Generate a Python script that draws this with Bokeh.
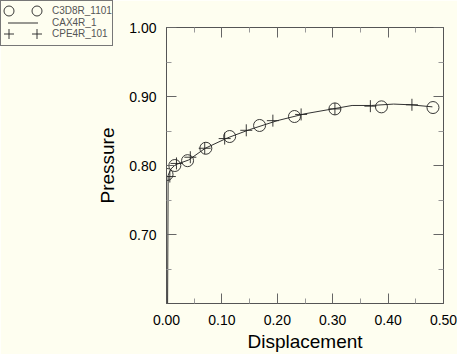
from bokeh.plotting import figure
from bokeh.models import Range1d, LinearAxis, FixedTicker, PrintfTickFormatter, GridBox, Div
from bokeh.embed import file_html
from bokeh.resources import INLINE

# ---- data ----
c3d8r_x = [0.001, 0.015, 0.038, 0.071, 0.114, 0.168, 0.231, 0.304, 0.388, 0.481]
c3d8r_y = [0.787, 0.800, 0.807, 0.825, 0.842, 0.858, 0.871, 0.882, 0.885, 0.884]

cax4r_x = [0.002, 0.003, 0.008, 0.016, 0.040, 0.070, 0.110, 0.150, 0.200, 0.250, 0.300, 0.335, 0.370, 0.410, 0.440, 0.480]
cax4r_y = [0.600, 0.786, 0.795, 0.801, 0.808, 0.825, 0.840, 0.852, 0.865, 0.875, 0.882, 0.887, 0.887, 0.889, 0.888, 0.885]

cpe4r_x = [0.006, 0.018, 0.043, 0.069, 0.105, 0.144, 0.192, 0.243, 0.304, 0.368, 0.443]
cpe4r_y = [0.784, 0.803, 0.812, 0.825, 0.839, 0.851, 0.865, 0.874, 0.882, 0.886, 0.888]

series_names = ["C3D8R_1101", "CAX4R_1", "CPE4R_101"]

x_ticks = [0.0, 0.1, 0.2, 0.3, 0.4, 0.5]
x_minor = [0.05, 0.15, 0.25, 0.35, 0.45]
y_ticks = [0.7, 0.8, 0.9, 1.0]
y_minor = [0.65, 0.75, 0.85, 0.95]

BG = "#FEFEF0"
INK = "#222222"
FONT = "Liberation Sans"
W, H = 457, 354

# ---------------- main plot ----------------
p = figure(width=W, height=H, output_backend="svg", toolbar_location=None,
           x_range=Range1d(0, 0.5), y_range=Range1d(0.6, 1.0),
           min_border_left=166, min_border_right=14,
           min_border_top=27, min_border_bottom=50,
           background_fill_color=BG, border_fill_color=BG)
p.grid.visible = False
p.outline_line_color = "#555555"

p.line(cax4r_x, cax4r_y, line_color="#333333", line_width=1)
p.scatter(c3d8r_x, c3d8r_y, marker="circle", size=12, fill_color=None, line_color=INK, line_width=0.9)
p.scatter(cpe4r_x, cpe4r_y, marker="cross", size=12, line_color=INK, line_width=0.9)


def style_axis(ax, ticks, minor, labels=True):
    ax.ticker = FixedTicker(ticks=ticks, minor_ticks=minor)
    ax.formatter = PrintfTickFormatter(format="%.2f")
    ax.axis_line_color = "#555555"
    ax.major_tick_in = 10
    ax.major_tick_out = 0
    ax.minor_tick_in = 5
    ax.minor_tick_out = 0
    ax.major_tick_line_color = "#666666"
    ax.minor_tick_line_color = "#999999"
    ax.major_label_text_font = FONT
    ax.major_label_text_color = "black"
    ax.major_label_text_font_size = "14px"
    ax.major_label_standoff = 10
    if not labels:
        ax.major_label_overrides = {t: "" for t in ticks}
        ax.major_label_standoff = 0


style_axis(p.xaxis[0], x_ticks, x_minor)
style_axis(p.yaxis[0], y_ticks, y_minor)
p.xaxis[0].major_label_standoff = 11
p.xaxis.axis_label = "Displacement"
p.yaxis.axis_label = "Pressure"
for ax in (p.xaxis[0], p.yaxis[0]):
    ax.axis_label_text_font = FONT
    ax.axis_label_text_font_size = "19px"
    ax.axis_label_text_font_style = "normal"
    ax.axis_label_text_color = "black"
p.xaxis[0].axis_label_standoff = 3
p.yaxis[0].axis_label_standoff = 8

ax_top = LinearAxis()
style_axis(ax_top, x_ticks, x_minor, labels=False)
p.add_layout(ax_top, "above")
ax_right = LinearAxis()
style_axis(ax_right, y_ticks, y_minor, labels=False)
p.add_layout(ax_right, "right")

# ---------------- legend box (overlaid at the page's top-left corner) ----------------
LW, LH = 113, 46
row_y = [11, 23, 34]
key_x = [9, 37]
text_x = 52
r = 5

parts = [f'<svg xmlns="http://www.w3.org/2000/svg" width="{LW}" height="{LH}" style="display:block">',
         f'<rect x="0.5" y="0.5" width="{LW - 1}" height="{LH - 1}" fill="{BG}" stroke="#777777" stroke-width="1"/>']
for kx in key_x:
    parts.append(f'<circle cx="{kx}" cy="{row_y[0]}" r="{r}" fill="none" stroke="{INK}" stroke-width="0.9"/>')
parts.append(f'<line x1="{key_x[0] - 1}" y1="{row_y[1]}" x2="{key_x[1] + 1}" y2="{row_y[1]}" stroke="#333333" stroke-width="1"/>')
for kx in key_x:
    parts.append(f'<path d="M{kx - r} {row_y[2]} H{kx + r} M{kx} {row_y[2] - r} V{row_y[2] + r}" '
                 f'stroke="{INK}" stroke-width="0.9" fill="none"/>')
for name, y in zip(series_names, row_y):
    parts.append(f'<text x="{text_x}" y="{y}" dominant-baseline="middle" font-family="Liberation Mono" '
                 f'font-size="10px" fill="#555555">{name}</text>')
parts.append('</svg>')

legend_div = Div(text="".join(parts), width=LW, height=LH,
                 styles={"margin": "0", "padding": "0"})

layout = GridBox(children=[(p, 0, 0), (legend_div, 0, 0)])
open("out.html", "w").write(file_html(layout, INLINE))
